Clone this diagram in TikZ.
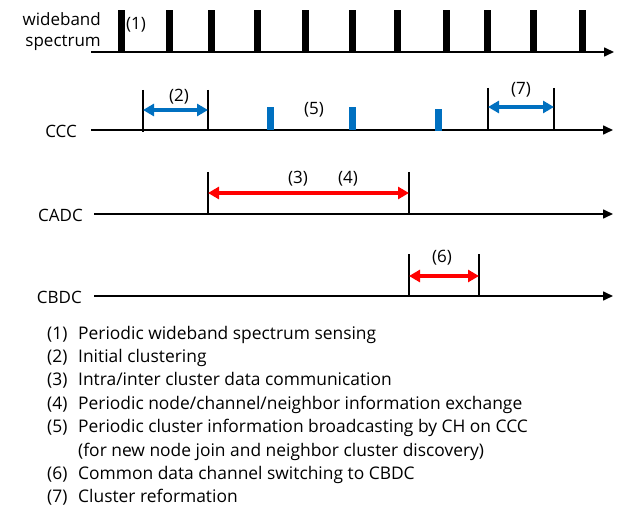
\documentclass[tikz,border=0pt]{standalone}
\usepackage{fontspec}
\setmainfont{Open Sans}
\usetikzlibrary{arrows.meta}
\definecolor{myblue}{HTML}{0070C0}
\definecolor{myred}{HTML}{FF0000}
\tikzset{
  axis/.style={line width=1.6pt,-{Triangle[length=10pt,width=9pt]}},
  tick/.style={line width=1.6pt},
  bar/.style={line width=7pt},
  bluebar/.style={line width=7pt,myblue},
  bluearr/.style={line width=3.6pt,myblue,{Triangle[length=11pt,width=12pt]}-{Triangle[length=11pt,width=12pt]}},
  redarr/.style={line width=3.6pt,myred,{Triangle[length=11pt,width=12pt]}-{Triangle[length=11pt,width=12pt]}},
  lbl/.style={inner sep=0pt,font=\fontsize{17}{20}\selectfont},
  leg/.style={inner sep=0pt,anchor=base west,font=\fontsize{17.4}{20}\selectfont},
}
\begin{document}
\begin{tikzpicture}[x=1pt,y=-1pt]
\useasboundingbox (0,0) rectangle (619,508);
% wideband spectrum
\coordinate (w0) at (91,52);
\coordinate (w1) at (614,52);
\draw[axis] (w0) -- (w1);
\foreach \x in {121,169,211,257,305,352,397,446,487,533,582}
  \draw[bar] (\x,52) -- (\x,10);
\node[lbl,anchor=base east] (wb) at (101,26) {wideband};
\node[lbl,anchor=base east] (sp) at (101,47) {spectrum};
\node[lbl] (l1) at (136,25) {(1)};
% CCC
\coordinate (c0) at (91,130);
\coordinate (c1) at (613,130);
\draw[axis] (c0) -- (c1);
\node[lbl,anchor=east] (ccc) at (77,131) {CCC};
\coordinate (t2a) at (143,90); \coordinate (t2ab) at (143,132);
\coordinate (t2b) at (208,90); \coordinate (t2bb) at (208,130);
\draw[tick] (t2a) -- (t2ab);
\draw[tick] (t2b) -- (t2bb);
\draw[bluearr] (143,110) -- (208,110);
\node[lbl] (l2) at (179,97) {(2)};
\draw[bluebar] (270,130) -- (270,107);
\draw[bluebar] (352,130) -- (352,107);
\draw[bluebar] (438,131) -- (438,109);
\node[lbl] (l5) at (314,110) {(5)};
\coordinate (t7a) at (488,88); \coordinate (t7ab) at (488,130);
\coordinate (t7b) at (554,88); \coordinate (t7bb) at (554,130);
\draw[tick] (t7a) -- (t7ab);
\draw[tick] (t7b) -- (t7bb);
\draw[bluearr] (488,107) -- (554,107);
\node[lbl] (l7) at (521,90) {(7)};
% CADC
\coordinate (a0) at (94,214);
\coordinate (a1) at (613,214);
\draw[axis] (a0) -- (a1);
\node[lbl,anchor=east] (cadc) at (83,215) {CADC};
\draw[tick] (208,172) -- (208,214);
\draw[tick] (409,172) -- (409,214);
\draw[redarr] (208,193) -- (409,193);
\node[lbl] (l3) at (298,179) {(3)};
\node[lbl] (l4) at (348,179) {(4)};
% CBDC
\coordinate (b0) at (94,296);
\coordinate (b1) at (613,296);
\draw[axis] (b0) -- (b1);
\node[lbl,anchor=east] (cbdc) at (82,297) {CBDC};
\draw[tick] (409,254) -- (409,296);
\draw[tick] (479,254) -- (479,296);
\draw[redarr] (409,276) -- (479,276);
\node[lbl] (l6) at (442,258) {(6)};
% legend
\foreach \n/\t [count=\i from 0] in {
  (1)/Periodic wideband spectrum sensing,
  (2)/Initial clustering,
  (3)/Intra\slash inter cluster data communication,
  (4)/Periodic node\slash channel\slash neighbor information exchange,
  (5)/Periodic cluster information broadcasting by CH on CCC,
  /(for new node join and neighbor cluster discovery),
  (6)/Common data channel switching to CBDC,
  (7)/Cluster reformation} {
  \node[leg] (n\i) at (47,339+23.4*\i) {\n};
  \node[leg] (t\i) at (78,339+23.4*\i) {\t};
}
\end{tikzpicture}
\end{document}
